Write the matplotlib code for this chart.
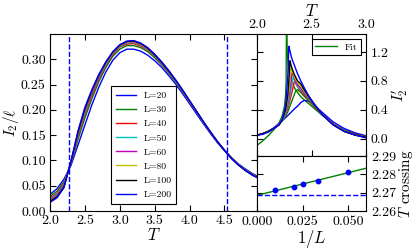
import numpy as np
import matplotlib
matplotlib.use('Agg')
import matplotlib.pyplot as plt
from matplotlib.ticker import FormatStrFormatter

plt.rcParams.update({
    'font.family': 'cmr10',
    'mathtext.fontset': 'cm',
    'axes.formatter.use_mathtext': True,
    'axes.unicode_minus': False,
    'xtick.direction': 'in', 'ytick.direction': 'in',
    'xtick.top': True, 'ytick.right': True,
    'xtick.major.size': 4, 'ytick.major.size': 4,
    'font.size': 10,
})

# ---------------- data ----------------
sizes = [20, 30, 40, 50, 60, 80, 100, 200]
colors = ['b', 'g', 'r', 'c', 'm', 'y', 'k', 'b']

T_main = [2.0, 2.1, 2.2, 2.3, 2.4, 2.5, 2.6, 2.7, 2.8, 2.9, 3.0, 3.1, 3.2, 3.3, 3.4, 3.5,
          3.6, 3.7, 3.8, 3.9, 4.0, 4.1, 4.2, 4.3, 4.4, 4.5, 4.6, 4.7, 4.8, 4.9, 5.0]
I2_L20 = [0.033, 0.044, 0.063, 0.090, 0.130, 0.170, 0.210, 0.245, 0.275, 0.298, 0.313, 0.320, 0.320, 0.316, 0.308, 0.297,
          0.284, 0.268, 0.251, 0.232, 0.212, 0.192, 0.172, 0.153, 0.135, 0.119, 0.105, 0.093, 0.083, 0.074, 0.067]
I2_L30 = [0.029, 0.039, 0.058, 0.093, 0.141, 0.184, 0.222, 0.256, 0.284, 0.306, 0.320, 0.327, 0.327, 0.323, 0.315, 0.303,
          0.289, 0.273, 0.255, 0.236, 0.215, 0.195, 0.174, 0.155, 0.136, 0.120, 0.105, 0.092, 0.082, 0.073, 0.066]
I2_L40 = [0.026, 0.035, 0.055, 0.095, 0.147, 0.191, 0.228, 0.261, 0.288, 0.309, 0.324, 0.330, 0.331, 0.326, 0.318, 0.306,
          0.291, 0.275, 0.257, 0.237, 0.216, 0.196, 0.175, 0.155, 0.137, 0.120, 0.105, 0.092, 0.081, 0.072, 0.066]
I2_L50 = [0.024, 0.033, 0.053, 0.096, 0.150, 0.195, 0.232, 0.264, 0.290, 0.311, 0.325, 0.332, 0.333, 0.328, 0.319, 0.307,
          0.292, 0.276, 0.257, 0.238, 0.217, 0.196, 0.175, 0.156, 0.137, 0.120, 0.105, 0.092, 0.081, 0.072, 0.065]
I2_L60 = [0.022, 0.031, 0.051, 0.096, 0.152, 0.198, 0.234, 0.266, 0.292, 0.312, 0.326, 0.333, 0.334, 0.329, 0.320, 0.308,
          0.293, 0.276, 0.258, 0.238, 0.217, 0.196, 0.176, 0.156, 0.137, 0.120, 0.104, 0.091, 0.081, 0.072, 0.065]
I2_L80 = [0.020, 0.029, 0.049, 0.097, 0.154, 0.201, 0.237, 0.268, 0.293, 0.313, 0.327, 0.334, 0.335, 0.330, 0.321, 0.309,
          0.294, 0.277, 0.258, 0.238, 0.217, 0.197, 0.176, 0.156, 0.137, 0.120, 0.104, 0.091, 0.080, 0.071, 0.065]
I2_L100 = [0.019, 0.028, 0.048, 0.097, 0.155, 0.202, 0.238, 0.269, 0.294, 0.314, 0.328, 0.335, 0.336, 0.331, 0.322, 0.309,
           0.294, 0.277, 0.259, 0.239, 0.218, 0.197, 0.176, 0.156, 0.137, 0.120, 0.104, 0.091, 0.080, 0.071, 0.064]
I2_L200 = [0.017, 0.026, 0.046, 0.098, 0.158, 0.205, 0.240, 0.270, 0.295, 0.315, 0.329, 0.336, 0.337, 0.332, 0.323, 0.310,
           0.295, 0.278, 0.259, 0.239, 0.218, 0.197, 0.176, 0.156, 0.137, 0.120, 0.104, 0.091, 0.080, 0.071, 0.064]
main_curves = [I2_L20, I2_L30, I2_L40, I2_L50, I2_L60, I2_L80, I2_L100, I2_L200]
T_lines = [2.269, 4.53]

T_ins = [2.0, 2.05, 2.1, 2.15, 2.2, 2.23, 2.26, 2.28, 2.29, 2.30, 2.31, 2.32, 2.33, 2.34, 2.35,
         2.37, 2.40, 2.43, 2.47, 2.52, 2.6, 2.7, 2.8, 2.9, 3.0]
dI_L20 = [0.05, 0.07, 0.10, 0.15, 0.21, 0.25, 0.29, 0.32, 0.335, 0.35, 0.365, 0.38, 0.395, 0.41, 0.425,
          0.45, 0.50, 0.53, 0.52, 0.47, 0.36, 0.23, 0.14, 0.08, 0.04]
dI_L30 = [0.05, 0.07, 0.10, 0.14, 0.20, 0.25, 0.31, 0.37, 0.41, 0.45, 0.49, 0.53, 0.57, 0.61, 0.65,
          0.68, 0.64, 0.59, 0.53, 0.45, 0.33, 0.20, 0.11, 0.06, 0.03]
dI_L40 = [0.05, 0.07, 0.10, 0.14, 0.20, 0.25, 0.33, 0.42, 0.47, 0.53, 0.59, 0.65, 0.72, 0.79, 0.77,
          0.72, 0.66, 0.61, 0.55, 0.46, 0.33, 0.20, 0.11, 0.06, 0.02]
dI_L50 = [0.05, 0.07, 0.10, 0.14, 0.20, 0.25, 0.34, 0.45, 0.51, 0.59, 0.68, 0.77, 0.86, 0.82, 0.78,
          0.73, 0.68, 0.63, 0.56, 0.47, 0.33, 0.19, 0.11, 0.05, 0.02]
dI_L60 = [0.05, 0.07, 0.10, 0.14, 0.20, 0.26, 0.36, 0.49, 0.57, 0.67, 0.79, 0.92, 0.88, 0.84, 0.80,
          0.75, 0.70, 0.64, 0.57, 0.47, 0.33, 0.19, 0.10, 0.05, 0.02]
dI_L80 = [0.05, 0.07, 0.10, 0.14, 0.19, 0.26, 0.38, 0.54, 0.66, 0.82, 0.99, 0.94, 0.90, 0.86, 0.83,
          0.78, 0.73, 0.66, 0.58, 0.48, 0.33, 0.19, 0.10, 0.05, 0.02]
dI_L100 = [0.05, 0.07, 0.10, 0.14, 0.19, 0.26, 0.40, 0.60, 0.80, 1.08, 1.02, 0.97, 0.93, 0.89, 0.86,
           0.80, 0.76, 0.68, 0.59, 0.48, 0.33, 0.19, 0.10, 0.05, 0.02]
dI_L200 = [0.05, 0.06, 0.09, 0.14, 0.19, 0.27, 0.45, 0.85, 1.28, 1.22, 1.15, 1.10, 1.06, 1.02, 0.98,
           0.90, 0.80, 0.71, 0.60, 0.49, 0.33, 0.19, 0.10, 0.05, 0.01]
inset_curves = [dI_L20, dI_L30, dI_L40, dI_L50, dI_L60, dI_L80, dI_L100, dI_L200]

fit_T_lo = [2.0, 2.05, 2.1, 2.15, 2.2, 2.23, 2.25, 2.26, 2.265, 2.268]
fit_lo = [-0.09, -0.03, 0.04, 0.12, 0.22, 0.32, 0.45, 0.60, 0.80, 1.50]
fit_T_hi = [2.272, 2.275, 2.28, 2.29, 2.31, 2.35, 2.4, 2.5, 2.6, 2.7, 2.8, 2.9, 3.0]
fit_hi = [1.50, 1.25, 1.10, 0.95, 0.82, 0.68, 0.58, 0.45, 0.32, 0.20, 0.12, 0.07, 0.03]

invL = [0.01, 0.02, 0.025, 1 / 30, 0.05]
T_cross = [2.2715, 2.2732, 2.2748, 2.2761, 2.2813]
T_onsager = 2.269

# ---------------- figure ----------------
fig = plt.figure(figsize=(4.15, 2.49), dpi=100)
ax = fig.add_axes([0.1205, 0.1526, 0.4995, 0.7109])
ax_tr = fig.add_axes([0.62, 0.3735, 0.262, 0.49])
ax_br = fig.add_axes([0.62, 0.1526, 0.262, 0.2209])

for L, y, c in zip(sizes, main_curves, colors):
    ax.plot(T_main, y, color=c, lw=1.0, label='L=%d' % L)
for t in T_lines:
    ax.axvline(t, color='b', ls='--', lw=1.0)
ax.set_xlim(2.0, 4.97)
ax.set_ylim(0.0, 0.35)
ax.set_xticks([2.0, 2.5, 3.0, 3.5, 4.0, 4.5])
ax.set_yticks([0.0, 0.05, 0.10, 0.15, 0.20, 0.25, 0.30])
ax.xaxis.set_major_formatter(FormatStrFormatter('%.1f'))
ax.yaxis.set_major_formatter(FormatStrFormatter('%.2f'))
ax.tick_params(axis='both', pad=3)
ax.set_xlabel('$T$', fontsize=12, labelpad=0)
ax.set_ylabel(r'$I_2/\ell$', fontsize=11, labelpad=0)
leg = ax.legend(loc='lower left', bbox_to_anchor=(0.272, 0.012), fontsize=7, fancybox=False,
                edgecolor='k', framealpha=1, handlelength=2.0, labelspacing=0.55, borderpad=0.5)
leg.get_frame().set_linewidth(0.8)

# top-right inset
ax_tr.plot(fit_T_lo, fit_lo, color='g', lw=1.0, label='Fit', zorder=1)
ax_tr.plot(fit_T_hi, fit_hi, color='g', lw=1.0, zorder=1)
for y, c in zip(inset_curves, colors):
    ax_tr.plot(T_ins, y, color=c, lw=1.0, zorder=2)
ax_tr.set_xlim(2.0, 3.0)
ax_tr.set_ylim(-0.24, 1.45)
ax_tr.set_xticks([2.0, 2.5, 3.0])
ax_tr.set_yticks([0.0, 0.4, 0.8, 1.2])
ax_tr.xaxis.set_major_formatter(FormatStrFormatter('%.1f'))
ax_tr.yaxis.set_major_formatter(FormatStrFormatter('%.1f'))
ax_tr.tick_params(axis='x', top=True, bottom=True, labeltop=True, labelbottom=False, pad=2)
ax_tr.tick_params(axis='y', left=True, right=True, labelleft=False, labelright=True)
ax_tr.xaxis.set_label_position('top')
ax_tr.yaxis.set_label_position('right')
ax_tr.set_xlabel('$T$', fontsize=12, labelpad=2)
ax_tr.set_ylabel("$I_2'$", fontsize=11, labelpad=1)
leg2 = ax_tr.legend(loc='upper right', fontsize=7, fancybox=False, edgecolor='k', framealpha=1,
                    handlelength=2.2, borderpad=0.4)
leg2.get_frame().set_linewidth(0.8)

# bottom-right inset
coef = np.polyfit(invL, T_cross, 1)
xfit = np.array([0.0, 0.06])
ax_br.plot(xfit, np.polyval(coef, xfit), color='g', lw=1.0)
ax_br.axhline(T_onsager, color='b', ls='--', lw=1.0)
ax_br.plot(invL, T_cross, 'o', color='b', ms=3.2, mec='b')
ax_br.set_xlim(0.0, 0.06)
ax_br.set_ylim(2.26, 2.29)
ax_br.set_xticks([0.0, 0.025, 0.05])
ax_br.set_yticks([2.26, 2.27, 2.28, 2.29])
ax_br.xaxis.set_major_formatter(FormatStrFormatter('%.3f'))
ax_br.yaxis.set_major_formatter(FormatStrFormatter('%.2f'))
ax_br.tick_params(axis='y', left=True, right=True, labelleft=False, labelright=True)
ax_br.yaxis.set_label_position('right')
ax_br.set_xlabel('$1/L$', fontsize=12, labelpad=0)
ax_br.set_ylabel('$T$ crossing', fontsize=11, labelpad=1)

fig.savefig('out.png', dpi=100)
